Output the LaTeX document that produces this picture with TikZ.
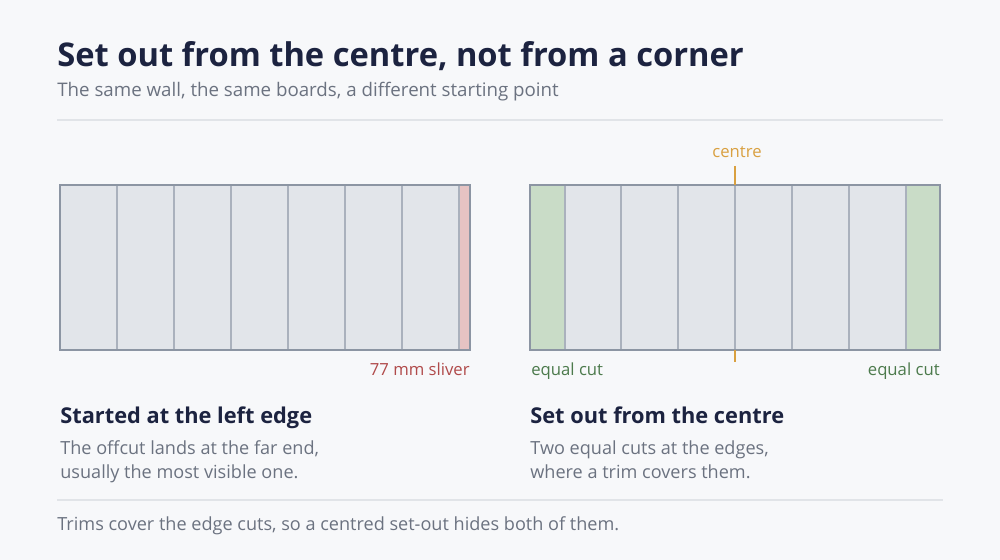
\documentclass[tikz,border=0pt]{standalone}
\usepackage{fontspec}
\setmainfont{Open Sans}
\usepackage{tikz}

\definecolor{bgcol}{HTML}{F7F8FA}
\definecolor{inkcol}{HTML}{1C2340}
\definecolor{greycol}{HTML}{6B7280}
\definecolor{rulecol}{HTML}{E1E4E8}
\definecolor{boardcol}{HTML}{E2E5EA}
\definecolor{jointcol}{HTML}{AAB1BD}
\definecolor{edgecol}{HTML}{8C95A3}
\definecolor{sliverfill}{HTML}{E6C3C3}
\definecolor{slivercol}{HTML}{B04A4A}
\definecolor{cutfill}{HTML}{C9DCC7}
\definecolor{cutcol}{HTML}{4C7A4C}
\definecolor{centrecol}{HTML}{D9A040}

\begin{document}
\begin{tikzpicture}[x=0.02cm,y=-0.02cm,
    title/.style={anchor=base west,inner sep=0pt,text=inkcol,font=\fontsize{18.6}{22}\selectfont\bfseries},
    subtitle/.style={anchor=base west,inner sep=0pt,text=greycol,font=\fontsize{10.65}{13}\selectfont},
    heading/.style={anchor=base west,inner sep=0pt,text=inkcol,font=\fontsize{12.4}{15}\selectfont\bfseries},
    desc/.style={anchor=base west,inner sep=0pt,text=greycol,font=\fontsize{10.3}{12}\selectfont},
    tag/.style={inner sep=0pt,font=\fontsize{9.5}{11}\selectfont}]

      \fill[bgcol] (0,0) rectangle (1000,560);
      \useasboundingbox (0,0) rectangle (1000,560);

      \node[title] (t) at (57,67){Set out from the centre, not from a corner};
      \node[subtitle] (s) at (57,97){The same wall, the same boards, a different starting point};
      \draw[rulecol,line width=0.6pt] (57,120) -- (943,120);

      % left wall: boards from the corner
      \fill[boardcol] (60,185) rectangle (459,350);
      \fill[sliverfill] (459,185) rectangle (470,350);
      \foreach \x in {117,174,231,288,345,402,459}
        \draw[jointcol,line width=0.6pt] (\x,185) -- (\x,350);
      \draw[edgecol,line width=0.8pt] (60,185) rectangle (470,350);

      \node[tag,anchor=base east,text=slivercol] (sl) at (470,375){77 mm sliver};

      % right wall: boards from the centre
      \fill[boardcol] (565,185) rectangle (906,350);
      \fill[cutfill] (530,185) rectangle (565,350);
      \fill[cutfill] (906,185) rectangle (940,350);
      \foreach \x in {565,621,678,735,792,849,906}
        \draw[jointcol,line width=0.6pt] (\x,185) -- (\x,350);
      \draw[edgecol,line width=0.8pt] (530,185) rectangle (940,350);

      \node[tag,anchor=base,text=centrecol] (c) at (737,158){centre};
      \coordinate (ca) at (735,166);
      \coordinate (cb) at (735,185);
      \coordinate (cc) at (735,350);
      \coordinate (cd) at (735,362);
      \draw[centrecol,line width=1pt] (ca) -- (cb);
      \draw[centrecol,line width=1pt] (cc) -- (cd);

      \node[tag,anchor=base west,text=cutcol] (el) at (531,375){equal cut};
      \node[tag,anchor=base east,text=cutcol] (er) at (940,375){equal cut};

      % captions
      \node[heading] (h1) at (60,423){Started at the left edge};
      \node[desc] (d1) at (60,454){The offcut lands at the far end,};
      \node[desc] (d2) at (60,478){usually the most visible one.};

      \node[heading] (h2) at (530,423){Set out from the centre};
      \node[desc] (d3) at (530,454){Two equal cuts at the edges,};
      \node[desc] (d4) at (530,478){where a trim covers them.};

      \draw[rulecol,line width=0.6pt] (57,500) -- (943,500);
      \node[desc] (f) at (57,530){Trims cover the edge cuts, so a centred set-out hides both of them.};
    \end{tikzpicture}
\end{document}
